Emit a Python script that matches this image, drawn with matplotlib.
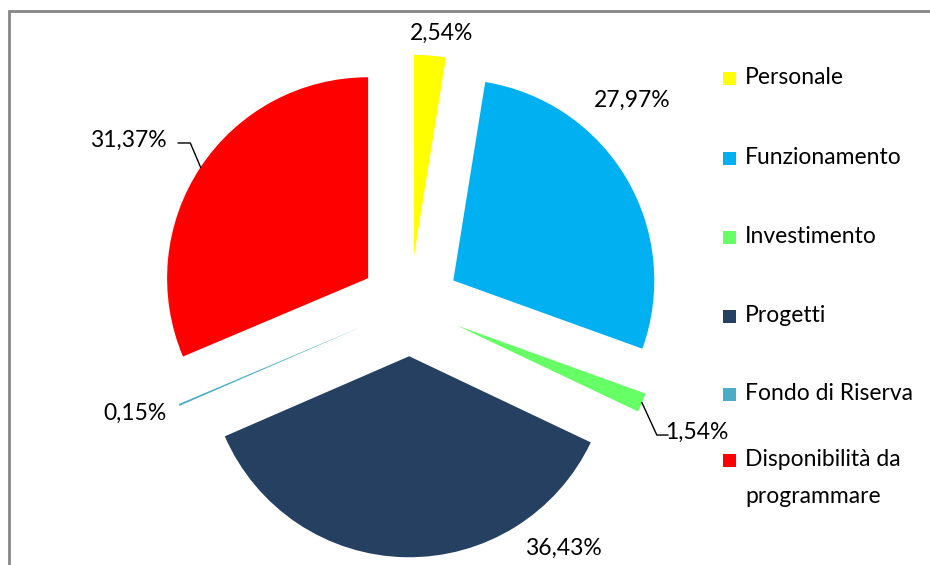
import matplotlib.pyplot as plt
from matplotlib.patches import Rectangle
import numpy as np

plt.rcParams['font.family'] = ['Lato', 'DejaVu Sans']

categories = ["Personale", "Funzionamento", "Investimento", "Progetti",
              "Fondo di Riserva", "Disponibilità da\nprogrammare"]
values = [2.54, 27.97, 1.54, 36.43, 0.15, 31.37]
colors = ["#FFFF00", "#00B0F0", "#66FF66", "#254061", "#4BACC6", "#FF0000"]

# label text positions (data units, pie radius = 1)
label_xy = [(0.159, 1.358), (1.104, 1.025), (1.428, -0.627),
            (0.761, -1.204), (-1.368, -0.532), (-1.403, 0.826)]

W, H = 930, 565
fig = plt.figure(figsize=(W / 100, H / 100), dpi=100)

# pie centre and radius in pixels
cx, cy, r = 410, H - 306, 201
size = 3 * r
ax = fig.add_axes([(cx - size / 2) / W, (cy - size / 2) / H, size / W, size / H])

explode = 0.25
wedges, _ = ax.pie(values, colors=colors, startangle=90, counterclock=False,
                   explode=[explode] * len(values), radius=1,
                   wedgeprops=dict(linewidth=0))
ax.set_xlim(-1.5, 1.5)
ax.set_ylim(-1.5, 1.5)
ax.axis("off")

for i, (w, v) in enumerate(zip(wedges, values)):
    txt = ("%.2f%%" % v).replace(".", ",")
    tx, ty = label_xy[i]
    ax.text(tx, ty, txt, ha="center", va="center", fontsize=16.5, color="black")
    ang = np.deg2rad((w.theta1 + w.theta2) / 2)
    px = (1 + explode) * np.cos(ang)
    py = (1 + explode) * np.sin(ang)
    if i == 5:
        ax.plot([px, tx + 0.31, tx + 0.25], [py, ty - 0.015, ty - 0.015],
                color="black", lw=1)
    if i == 2:
        ax.plot([px, tx - 0.2, tx - 0.145], [py, ty - 0.015, ty - 0.015],
                color="black", lw=1)

# legend drawn at fixed rows
row_y = [78, 158, 237, 316, 394, 460]
for lab, col, yy in zip(categories, colors, row_y):
    fig.patches.append(Rectangle((723 / W, (H - yy - 7) / H), 13 / W, 13 / H,
                                 transform=fig.transFigure, color=col, lw=0))
    fig.text(745 / W, (H - yy + 11) / H, lab, ha="left", va="top",
             fontsize=16.5, color="black", linespacing=1.95)

# outer frame (right and bottom fall outside the image)
fig.patches.append(Rectangle((9 / W, -10 / H), 940 / W, (H - 11 + 10) / H,
                             transform=fig.transFigure, fill=False,
                             edgecolor="#868686", lw=2))

fig.savefig("out.png", dpi=100)
